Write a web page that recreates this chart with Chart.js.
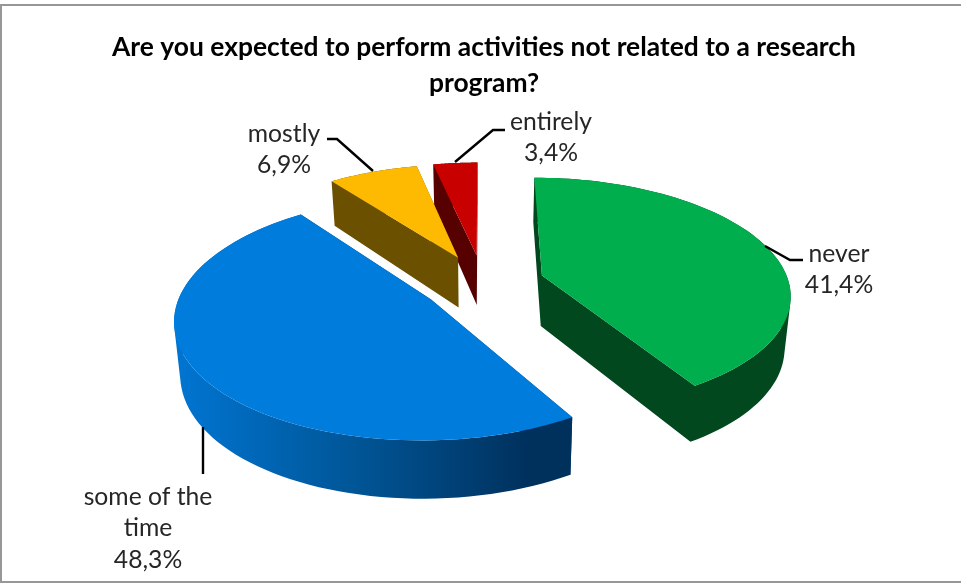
<!DOCTYPE html>
<html>
<head>
<meta charset="utf-8">
<script src="https://cdn.jsdelivr.net/npm/chart.js@4"></script>
<style>
  html, body { margin: 0; padding: 0; background: #fff; }
  canvas { display: block; }
</style>
</head>
<body>
<canvas id="chart" width="961" height="583"></canvas>
<script>
const categories = ["never", "some of the time", "mostly", "entirely"];
const values     = [41.4, 48.3, 6.9, 3.4];
const topColors  = ["#00AE4E", "#007CDD", "#FDBA00", "#C80000"];
const wallColors = ["#02481F", "#003A6E", "#6B5000", "#560000"];

// back to front
const drawOrder = [3, 2, 0, 1];

// camera for the tilted pie
const CX = 483, CY = 283, RX = 247, RY = 114.5, PERSP = 0.15;
const EXPLODE = 0.25, DEPTH = 51;

function project(u, v, z){
  const w = 1 - PERSP * v;
  const x = RX * u / w;
  const y = RY * v / w;
  return [CX + x * (1 - 0.02 * z), CY + y + z * DEPTH * (1 + 0.125 * v)];
}

function slicePoints(el){
  // chart.js angles start at -PI/2 (12 o'clock), clockwise
  const a0 = el.startAngle + Math.PI / 2;
  const a1 = el.endAngle + Math.PI / 2;
  const mid = (a0 + a1) / 2;
  const du = EXPLODE * Math.sin(mid);
  const dv = -EXPLODE * Math.cos(mid);
  const arc = [];
  const steps = 80;
  for(let i = 0; i <= steps; i++){
    const a = a0 + (a1 - a0) * i / steps;
    arc.push([du + Math.sin(a), dv - Math.cos(a)]);
  }
  return { apex: [du, dv], arc };
}

function fillPoly(ctx, pts, style){
  ctx.beginPath();
  pts.forEach((p, i) => i ? ctx.lineTo(p[0], p[1]) : ctx.moveTo(p[0], p[1]));
  ctx.closePath();
  ctx.fillStyle = style;
  ctx.fill();
}

function area(q){
  let s = 0;
  q.forEach((p, i) => {
    const n = q[(i + 1) % q.length];
    s += p[0] * n[1] - n[0] * p[1];
  });
  return s;
}

// all quads wound the same way in one path, so folds don't cancel and there are no seams
function fillQuads(ctx, quads, style){
  ctx.beginPath();
  quads.forEach((q) => {
    const pts = area(q) < 0 ? q.slice().reverse() : q;
    pts.forEach((p, i) => i ? ctx.lineTo(p[0], p[1]) : ctx.moveTo(p[0], p[1]));
    ctx.closePath();
  });
  ctx.fillStyle = style;
  ctx.fill("nonzero");
}

function blueWall(ctx){
  const g = ctx.createLinearGradient(183, 0, 571, 0);
  g.addColorStop(0, "#0074D0");
  g.addColorStop(0.45, "#005596");
  g.addColorStop(0.9, "#00305C");
  g.addColorStop(1, "#00305C");
  return g;
}

const pie3d = {
  id: "pie3d",
  beforeDatasetDraw(){ return false; },
  afterDatasetsDraw(chart){
    const ctx = chart.ctx;
    const arcs = chart.getDatasetMeta(0).data;
    drawOrder.forEach((i) => {
      const { apex, arc } = slicePoints(arcs[i]);
      const top = (p) => project(p[0], p[1], 0);
      const bot = (p) => project(p[0], p[1], 1);
      const first = arc[0], last = arc[arc.length - 1];
      const cuts = [
        [top(apex), top(first), bot(first), bot(apex)],
        [top(apex), top(last), bot(last), bot(apex)]
      ];
      const quads = [];
      for(let s = 0; s < arc.length - 1; s++){
        quads.push([top(arc[s]), top(arc[s + 1]), bot(arc[s + 1]), bot(arc[s])]);
      }
      if(i === 1){
        fillQuads(ctx, cuts, wallColors[i]);
        fillQuads(ctx, quads, blueWall(ctx));
      } else {
        fillQuads(ctx, cuts.concat(quads), wallColors[i]);
      }
      fillPoly(ctx, [top(apex)].concat(arc.map(top)), topColors[i]);
    });
  }
};

const pct = (v) => v.toFixed(1).replace(".", ",") + "%";

const labelLines = [["never"], ["some of the", "time"], ["mostly"], ["entirely"]];
const labelAnchor = [[839, 254], [148, 497], [284, 134], [551, 122]];
const leaders = [
  [[765, 246], [790, 260], [803, 260]],
  [[203, 427], [203, 474]],
  [[327, 139], [337, 139], [373, 171]],
  [[455, 162], [493, 130], [505, 130]]
];

const callouts = {
  id: "callouts",
  afterDraw(chart){
    const ctx = chart.ctx;
    ctx.save();
    ctx.strokeStyle = "#000";
    ctx.lineWidth = 2.4;
    leaders.forEach((line) => {
      ctx.beginPath();
      line.forEach((p, i) => i ? ctx.lineTo(p[0], p[1]) : ctx.moveTo(p[0], p[1]));
      ctx.stroke();
    });
    ctx.font = "24.7px Lato";
    ctx.fillStyle = "#262626";
    ctx.textAlign = "center";
    ctx.textBaseline = "middle";
    categories.forEach((c, i) => {
      const lines = labelLines[i].concat(pct(values[i]));
      lines.forEach((t, n) => ctx.fillText(t, labelAnchor[i][0], labelAnchor[i][1] + n * 31.5));
    });
    ctx.restore();
  }
};

const frame = {
  id: "frame",
  beforeDraw(chart){
    const ctx = chart.ctx;
    ctx.save();
    ctx.fillStyle = "#fff";
    ctx.fillRect(0, 0, 961, 583);
    ctx.fillStyle = "#979797";
    ctx.fillRect(0, 4, 961, 2);
    ctx.fillRect(0, 4, 2, 579);
    ctx.fillRect(0, 581, 961, 2);
    ctx.restore();
  }
};

new Chart(document.getElementById("chart"), {
  type: "pie",
  data: {
    labels: categories,
    datasets: [{ data: values, backgroundColor: topColors, borderWidth: 0 }]
  },
  options: {
    responsive: false,
    animation: false,
    layout: { padding: { left: 7 } },
    plugins: {
      legend: { display: false },
      tooltip: { enabled: false },
      title: {
        display: true,
        text: ["Are you expected to perform activities not related to a research", "program?"],
        color: "#000",
        font: { family: "Lato", size: 26.4, weight: "bold", lineHeight: 1.364 },
        padding: { top: 29, bottom: 0 }
      }
    }
  },
  plugins: [frame, pie3d, callouts]
});
</script>
</body>
</html>
